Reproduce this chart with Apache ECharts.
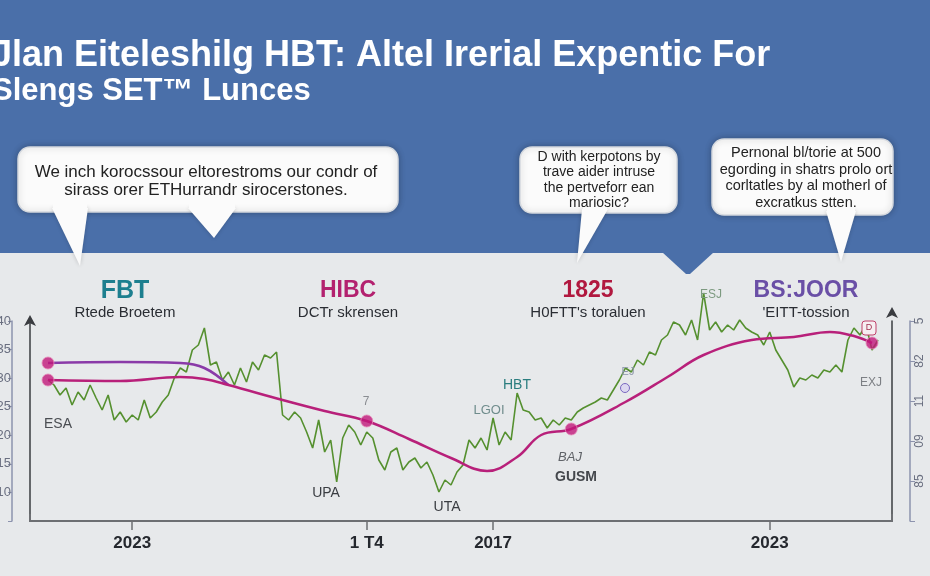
<!DOCTYPE html>
<html>
<head>
<meta charset="utf-8">
<style>html,body{margin:0;padding:0;background:#e7e9eb;}#chart{width:930px;height:576px;}</style>
<script src="https://cdn.jsdelivr.net/npm/echarts@6/dist/echarts.min.js"></script>
</head>
<body>
<div id="chart"></div>
<script>
// ---- data ----
const categories = Array.from({length: 139}, (_, i) => 'P' + i);
const tickIndex = [14, 53, 74, 120];
const tickText = ['2023', '1 T4', '2017', '2023'];
const greenValues = [70.5,68,63,66.5,58,64.5,60.5,68,61.5,55.5,
 63,50.5,54.5,49.5,53,50.5,60.5,51.5,54.5,59.5,
 63,71.5,76.5,74.5,85.5,88,96.5,78,79.5,70.5,
 74.5,68,76.5,69.5,79.5,75.5,83,81.5,84.5,53,
 50.5,54.5,51.5,44.5,36.5,50.5,34.5,40.5,19.5,41.5,
 48,44.5,38,44.5,41.5,30.5,25.5,34.5,36.5,25.5,
 29.5,31.5,26.5,29.5,23,14.5,20.5,18,24.5,28,
 40.5,36.5,41.5,35.5,51.5,38,44.5,40.5,64,55.5,
 54.5,50.5,51.5,46.5,50.5,48,51.5,50.5,54.5,56.5,
 58,59.5,61.5,60.5,65.5,70.5,76.5,74.5,80.5,78,
 84.5,83,90.5,93,99.5,98,93,100.5,90.5,114,
 95.5,99.5,94.5,98,95.5,100.5,96.5,94.5,93,88,
 94.5,85.5,80.5,75.5,67,71.5,70.5,73,71.5,75.5,
 74.5,78,74.5,90.5,96.5,93,98,85.5,90.5];
const magentaValues = [[0,70.5],[12,70],[22,72],[26,71],[30,68],[39,60.5],[46,55],[53,50],[60,41],[67,31.5],[73,25],[78,32],[82,43],[87,46],[96,59.5],[103,72],[109,83],[117,90.5],[124,92],[130,94.5],[134,92.5],[137,89]];
const purpleValues = [[0,79],[12,79.5],[22,79],[26,76.5],[30,68]];
const dotValues = [[0,79],[0,70.5],[53,50],[87,46],[137,89]];
const leftTickLabels = ['', '10', '15', '20', '25', '30', '35', '40'];
const rightTickLabels = ['', '85', '09', '11', '82', '5'];

const titleLines = ['Jlan Eiteleshilg HBT: Altel Irerial Expentic For', 'Slengs SET\u2122 Lunces'];
const bubble1 = ['We inch korocssour eltorestroms our condr of', 'sirass orer ETHurrandr sirocerstones.'];
const bubble2 = ['D with kerpotons by', 'trave aider intruse', 'the pertveforr ean', 'mariosic?'];
const bubble3 = ['Pernonal bl/torie at 500', 'egording in shatrs prolo ort', 'corltatles by al motherl of', 'excratkus stten.'];
const seriesTitles = [
  {name: 'FBT', sub: 'Rtede Broetem', color: '#1d7f8f'},
  {name: 'HIBC', sub: 'DCTr skrensen', color: '#b3216f'},
  {name: '1825', sub: "H0FTT's toraluen", color: '#b1183f'},
  {name: 'BS:JOOR', sub: "'EITT-tossion", color: '#6a4fa6'}
];

// ---- layout ----
const BLUE = '#4a6fa9';
const FONT = '"Liberation Sans", Arial, sans-serif';
const titleX = [125, 348, 588, 806];

const chart = echarts.init(document.getElementById('chart'), null, {renderer: 'canvas'});

function bubble(x, y, w, h, tails, lines, fs, lh, cx, ty) {
  const els = [];
  els.push({type: 'rect', shape: {x, y, width: w, height: h, r: 12}, z: 1,
    style: {fill: '#fbfbfb', stroke: '#d4d8de', lineWidth: 1.5, shadowBlur: 6, shadowColor: 'rgba(0,0,0,0.25)'}});
  tails.forEach(p => {
    els.push({type: 'polygon', shape: {points: p}, z: 1,
      style: {fill: '#fbfbfb', shadowBlur: 4, shadowColor: 'rgba(0,0,0,0.2)'}});
    els.push({type: 'rect', shape: {x: p[0][0] + 1, y: p[0][1] - 6, width: p[1][0] - p[0][0] - 2, height: 7}, z: 1,
      style: {fill: '#fbfbfb'}});
  });
  lines.forEach((t, i) => {
    els.push({type: 'text', x: cx, y: ty + i * lh, z: 2,
      style: {text: t, font: fs + 'px ' + FONT, fill: '#222', align: 'center', verticalAlign: 'middle'}});
  });
  return els;
}

const graphics = [
  {type: 'rect', shape: {x: 0, y: 0, width: 930, height: 253}, z: 0, style: {fill: BLUE}},
  {type: 'polygon', shape: {points: [[662, 252], [714, 252], [690, 274], [686, 274]]}, z: 0, style: {fill: BLUE}},
  {type: 'text', x: -8, y: 56, z: 2, style: {text: titleLines[0], font: 'bold 36px ' + FONT, fill: '#ffffff', verticalAlign: 'middle'}},
  {type: 'text', x: -8, y: 91, z: 2, style: {text: titleLines[1], font: 'bold 31px ' + FONT, fill: '#ffffff', verticalAlign: 'middle'}},
  ...bubble(18, 147, 380, 65, [[[52, 208], [88, 208], [80, 266]], [[188, 208], [236, 208], [214, 238]]], bubble1, 17, 18, 206, 172),
  ...bubble(520, 147, 157, 66, [[[582, 209], [608, 209], [577, 263]]], bubble2, 14, 15.5, 599, 157),
  ...bubble(712, 139, 181, 76, [[[826, 211], [856, 211], [841, 262]]], bubble3, 14.5, 16.5, 806, 153),
  // x-axis end brackets
  {type: 'polyline', shape: {points: [[30, 514], [30, 521], [52, 521]]}, z: 3, style: {stroke: '#6d6f73', lineWidth: 2, fill: null}},
  {type: 'polyline', shape: {points: [[872, 521], [892, 521], [892, 514]]}, z: 3, style: {stroke: '#6d6f73', lineWidth: 2, fill: null}},
  // small marker box above last dot
  {type: 'rect', shape: {x: 862, y: 321, width: 14, height: 14, r: 3}, z: 5, style: {fill: '#f6eef1', stroke: '#c0406a', lineWidth: 1}},
  {type: 'text', x: 869, y: 328, z: 6, style: {text: 'D', font: '9px ' + FONT, fill: '#a03050', align: 'center', verticalAlign: 'middle'}},
  {type: 'circle', shape: {cx: 625, cy: 388, r: 4.5}, z: 5, style: {fill: '#dcd8f0', stroke: '#7a68c0', lineWidth: 1}}
];
seriesTitles.forEach((s, i) => {
  graphics.push({type: 'text', x: titleX[i], y: 291, z: 2, style: {text: s.name, font: 'bold ' + (i === 0 ? 25 : 23) + 'px ' + FONT, fill: s.color, align: 'center', verticalAlign: 'middle'}});
  graphics.push({type: 'text', x: titleX[i], y: 313, z: 2, style: {text: s.sub, font: '15px ' + FONT, fill: '#2a2d33', align: 'center', verticalAlign: 'middle'}});
});
const notes = [
  ['ESA', 58, 424, '14px', '#4a4d52'],
  ['UPA', 326, 493, '14px', '#3a3d42'],
  ['UTA', 447, 507, '14px', '#3a3d42'],
  ['LGOI', 489, 410, '13px', '#6f8c8c'],
  ['HBT', 517, 385, '14px', '#2a7d7f'],
  ['BAJ', 570, 457, 'italic 13px', '#606368'],
  ['GUSM', 576, 477, 'bold 14px', '#44474c'],
  ['EXJ', 871, 383, '12px', '#7c7f84'],
  ['7', 366, 402, '12px', '#8a8d92'],
  ['ESJ', 711, 295, '12px', '#7d9a80'],
  ['EJ', 628, 372, '11px', '#8a94a8']
];
notes.forEach(n => graphics.push({type: 'text', x: n[1], y: n[2], z: 6,
  style: {text: n[0], font: n[3] + ' ' + FONT, fill: n[4], align: 'center', verticalAlign: 'middle'}}));

const tickShow = (i) => tickIndex.indexOf(i) >= 0;

chart.setOption({
  backgroundColor: '#e7e9eb',
  animation: false,
  graphic: graphics,
  grid: {left: 48, right: 52, top: 321, bottom: 55, containLabel: false, outerBoundsMode: 'none'},
  xAxis: {
    type: 'category', data: categories, boundaryGap: false,
    axisLine: {lineStyle: {color: '#6d6f73', width: 2}},
    axisTick: {interval: tickShow, length: 9, lineStyle: {color: '#6d6f73', width: 1.5}},
    axisLabel: {interval: tickShow, margin: 14, color: '#25282e', fontSize: 17, fontWeight: 'bold', fontFamily: FONT,
      formatter: (v, i) => tickText[tickIndex.indexOf(i)] || ''},
    splitLine: {show: false}
  },
  yAxis: [
    {type: 'value', min: 0, max: 100, position: 'left', offset: 18,
      axisLine: {show: true, symbol: ['none', 'arrow'], symbolSize: [9, 11], symbolOffset: [0, 6], lineStyle: {color: '#3a3c40', width: 1.5}},
      axisTick: {show: false}, axisLabel: {show: false}, splitLine: {show: false}},
    {type: 'value', min: 0, max: 7, interval: 1, position: 'left', offset: 36,
      axisLine: {show: true, lineStyle: {color: '#8d93ae', width: 1.5}},
      axisTick: {show: true, length: 4, lineStyle: {color: '#8d93ae'}},
      axisLabel: {show: true, margin: 1, color: '#6a6f80', fontSize: 13, fontFamily: FONT, formatter: (v) => leftTickLabels[v] || ''},
      splitLine: {show: false}},
    {type: 'value', min: 0, max: 100, position: 'right', offset: 14,
      axisLine: {show: true, symbol: ['none', 'arrow'], symbolSize: [9, 11], symbolOffset: [0, 14], lineStyle: {color: '#3a3c40', width: 1.5}},
      axisTick: {show: false}, axisLabel: {show: false}, splitLine: {show: false}},
    {type: 'value', min: 0, max: 5, interval: 1, position: 'right', offset: 32,
      axisLine: {show: true, lineStyle: {color: '#8d93ae', width: 1.5}},
      axisTick: {show: true, length: 5, lineStyle: {color: '#8d93ae'}},
      axisLabel: {show: true, margin: 4, rotate: 90, color: '#6a6f80', fontSize: 12, fontFamily: FONT, formatter: (v) => rightTickLabels[v] || ''},
      splitLine: {show: false}}
  ],
  series: [
    {type: 'line', name: 'green', data: greenValues, yAxisIndex: 0, showSymbol: false, clip: false, z: 3,
      lineStyle: {color: '#55902f', width: 1.6}},
    {type: 'line', name: 'purple', data: purpleValues, yAxisIndex: 0, smooth: 0.4, showSymbol: false, clip: false, z: 4,
      lineStyle: {color: '#8a3aa8', width: 2.5}},
    {type: 'line', name: 'magenta', data: magentaValues, yAxisIndex: 0, smooth: 0.4, showSymbol: false, clip: false, z: 4,
      lineStyle: {color: '#b8207a', width: 2.5}},
    {type: 'scatter', name: 'dots', data: dotValues, yAxisIndex: 0, symbolSize: 12, clip: false, z: 5,
      itemStyle: {color: '#c2187a', borderColor: '#e58ab8', borderWidth: 1}}
  ]
});
</script>
</body>
</html>
